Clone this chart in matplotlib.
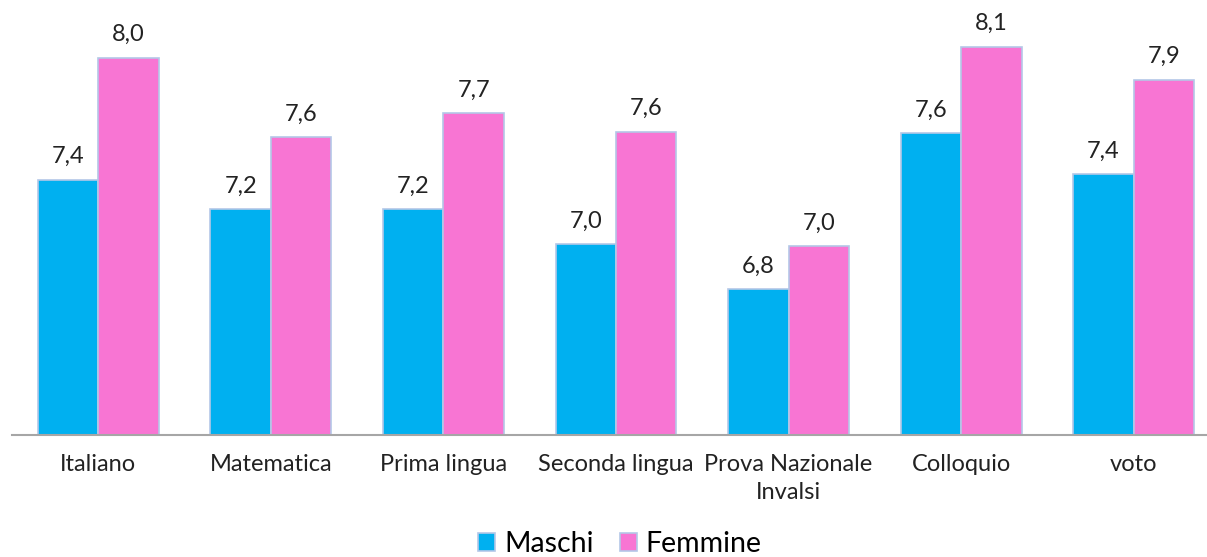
import matplotlib
matplotlib.use("Agg")
import matplotlib.pyplot as plt
import numpy as np

categories = ["Italiano", "Matematica", "Prima lingua", "Seconda lingua",
              "Prova Nazionale\nInvalsi", "Colloquio", "voto"]
maschi = [7.38, 7.22, 7.22, 7.03, 6.79, 7.63, 7.41]
femmine = [8.04, 7.61, 7.74, 7.64, 7.02, 8.10, 7.92]
maschi_labels = ["7,4", "7,2", "7,2", "7,0", "6,8", "7,6", "7,4"]
femmine_labels = ["8,0", "7,6", "7,7", "7,6", "7,0", "8,1", "7,9"]

plt.rcParams["font.family"] = ["Lato", "DejaVu Sans"]

fig = plt.figure(figsize=(12.07, 5.57), dpi=100)
ax = fig.add_axes([12 / 1207, 122 / 557, 1208 / 1207, 435 / 557])

x = np.arange(len(categories))
w = 0.35
edge = "#b4c7e7"
b1 = ax.bar(x - w / 2, maschi, w, color="#00b0f0", edgecolor=edge,
            linewidth=1.2, label="Maschi")
b2 = ax.bar(x + w / 2, femmine, w, color="#f875d3", edgecolor=edge,
            linewidth=1.2, label="Femmine")

for bars, labels in ((b1, maschi_labels), (b2, femmine_labels)):
    for bar, lab in zip(bars, labels):
        ax.annotate(lab, (bar.get_x() + bar.get_width() / 2, bar.get_height()),
                    xytext=(0, 9), textcoords="offset points",
                    ha="center", va="bottom", fontsize=17, color="#222222")

ax.set_ylim(6, 6 + 435 / 185)
ax.set_xlim(-0.5, len(categories) - 0.5)
ax.set_xticks(x)
ax.set_xticklabels(categories, fontsize=17, color="#222222", linespacing=1.4)
ax.tick_params(axis="x", length=0, pad=14)
ax.set_yticks([])
for s in ["top", "right", "left"]:
    ax.spines[s].set_visible(False)
ax.spines["bottom"].set_color("#a6a6a6")
ax.spines["bottom"].set_linewidth(1.5)

fig.legend(loc="lower center", bbox_to_anchor=(620 / 1207, 0.0), ncol=2,
           frameon=False, borderpad=0.0, borderaxespad=0.0, fontsize=20.5,
           handlelength=0.6, handleheight=0.6, handletextpad=0.32,
           columnspacing=0.9)

fig.savefig("out.png", dpi=100)
